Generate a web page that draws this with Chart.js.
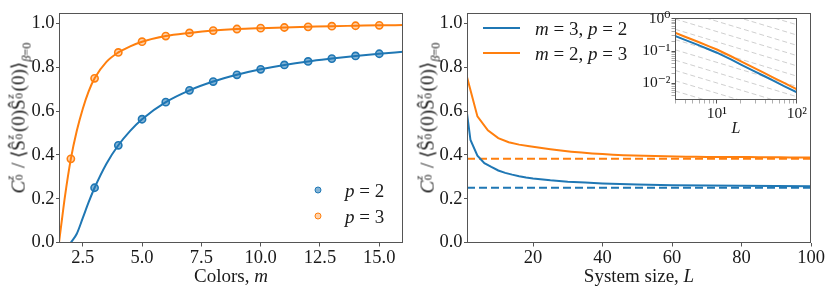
<!DOCTYPE html>
<html>
<head>
<meta charset="utf-8">
<script src="https://cdn.jsdelivr.net/npm/chart.js@4.4.1/dist/chart.umd.min.js"></script>
<style>
html,body{margin:0;padding:0;background:#fff;}
#wrap{position:relative;width:831px;height:289px;overflow:hidden;font-family:'Liberation Serif','DejaVu Serif',serif;color:#1a1a1a;}
canvas{position:absolute;}
.lab{position:absolute;white-space:nowrap;line-height:1;font-size:19px;transform:translate(-50%,-50%);}
.ylab{position:absolute;white-space:nowrap;line-height:1;font-size:19px;transform:translate(-50%,-50%) rotate(-90deg);}
.ss{display:inline-block;position:relative;width:0.42em;height:1em;}
.ss .u{position:absolute;left:0.06em;top:-0.06em;font-size:0.6em;line-height:1;font-style:italic;}
.ss .d{position:absolute;left:0.06em;top:0.74em;font-size:0.6em;line-height:1;}
.sb{font-size:0.65em;vertical-align:-0.45em;}
.leg{position:absolute;white-space:nowrap;font-size:19px;line-height:1;transform:translateY(-50%);}
.mk{position:absolute;width:5px;height:5px;border-radius:50%;border:1.6px solid;transform:translate(-50%,-50%);}
.ln{position:absolute;height:2px;transform:translateY(-50%);}
</style>
</head>
<body>
<div id="wrap">
  <canvas id="cLeft" width="415" height="289" style="left:0;top:0;"></canvas>
  <canvas id="cRight" width="416" height="289" style="left:415px;top:0;"></canvas>
  <canvas id="cInset" width="180" height="114" style="left:628px;top:8px;"></canvas>

  <div class="ylab" style="left:19px;top:118px;"><i>C</i><span class="ss"><span class="u">z</span><span class="d">0</span></span> / ⟨Ŝ<span class="ss"><span class="u">z</span><span class="d">0</span></span>(0)Ŝ<span class="ss"><span class="u">z</span><span class="d">0</span></span>(0)⟩<span class="sb"><i>β</i>=0</span></div>
  <div class="ylab" style="left:428px;top:118px;"><i>C</i><span class="ss"><span class="u">z</span><span class="d">0</span></span> / ⟨Ŝ<span class="ss"><span class="u">z</span><span class="d">0</span></span>(0)Ŝ<span class="ss"><span class="u">z</span><span class="d">0</span></span>(0)⟩<span class="sb"><i>β</i>=0</span></div>

  <div class="lab" style="left:231px;top:275px;">Colors, <i>m</i></div>
  <div class="lab" style="left:639px;top:275px;">System size, <i>L</i></div>
  <div class="lab" style="left:736px;top:128px;font-size:16px;"><i>L</i></div>

  <div class="mk" style="left:318px;top:190px;border-color:#1f77b4;background:rgba(31,119,180,0.55);"></div>
  <div class="leg" style="left:345px;top:190px;"><i>p</i> = 2</div>
  <div class="mk" style="left:318px;top:216px;border-color:#ff7f0e;background:rgba(255,127,14,0.35);"></div>
  <div class="leg" style="left:345px;top:216px;"><i>p</i> = 3</div>

  <div class="ln" style="left:483px;top:28px;width:37px;background:#1f77b4;"></div>
  <div class="leg" style="left:535px;top:28px;"><i>m</i> = 3, <i>p</i> = 2</div>
  <div class="ln" style="left:483px;top:53px;width:37px;background:#ff7f0e;"></div>
  <div class="leg" style="left:535px;top:53px;"><i>m</i> = 2, <i>p</i> = 3</div>
</div>
<script>
// ---------- data: left panel ----------
const colorsP2 = [3,4,5,6,7,8,9,10,11,12,13,14,15];
const corrP2   = [0.25,0.444,0.563,0.641,0.695,0.735,0.766,0.791,0.811,0.827,0.84,0.852,0.862];
const colorsP3 = [2,3,4,5,6,7,8,9,10,11,12,13,14,15];
const corrP3   = [0.382,0.75,0.868,0.917,0.943,0.957,0.968,0.975,0.979,0.982,0.985,0.988,0.99,0.992];
const curveMP2 = [2,2.25,2.5,2.75,3,3.5,4,4.5,5,6,7,8,9,10,11,12,13,14,15,16];
const curveP2  = [0,0.04,0.111,0.184,0.25,0.36,0.444,0.51,0.563,0.641,0.695,0.735,0.766,0.791,0.811,0.827,0.84,0.852,0.862,0.871];
const curveMP3 = [1.5,1.6,1.75,2,2.25,2.5,2.75,3,3.5,4,4.5,5,6,7,8,9,10,11,12,13,14,15,16];
const curveP3  = [0,0.085,0.21,0.382,0.51,0.61,0.69,0.75,0.825,0.868,0.896,0.917,0.943,0.957,0.968,0.975,0.979,0.982,0.985,0.988,0.99,0.992,0.993];
const colorTicks = [2.5,5,7.5,10,12.5,15];
const corrTicks  = [0,0.2,0.4,0.6,0.8,1.0];

// ---------- data: right panel ----------
const sizeM3P2 = [1,2,4,6,8,10,12,14,16,18,20,25,30,35,40,50,60,70,80,90,100];
const corrM3P2 = [0.59,0.468,0.397,0.362,0.345,0.329,0.318,0.31,0.303,0.297,0.292,0.284,0.278,0.274,0.27,0.265,0.262,0.26,0.259,0.258,0.257];
const sizeM2P3 = [1,4,7,10,13,16,19,22,25,28,31,34,37,40,43,46,49,52,55,58,61,64,67,70,73,76,79,82,85,88,91,94,97,100];
const corrM2P3 = [0.756,0.576,0.512,0.477,0.458,0.447,0.44,0.433,0.426,0.42,0.415,0.411,0.407,0.404,0.401,0.399,0.397,0.396,0.395,0.394,0.393,0.392,0.392,0.391,0.391,0.39,0.39,0.39,0.389,0.389,0.389,0.388,0.388,0.388];
const limitM3P2 = 0.25;
const limitM2P3 = 0.382;
const sizeRange = [1,100];
const sizeTicks = [20,40,60,80,100];

// ---------- data: inset (log-log, deviation from the limit) ----------
const insetL      = [3,4,5,6,8,10,15,20,30,40,50,70,100];
const insetM3P2   = [0.296,0.224,0.18,0.15,0.112,0.089,0.055,0.038,0.023,0.0162,0.0122,0.008,0.0052];
const insetM2P3   = [0.372,0.28,0.225,0.188,0.14,0.112,0.069,0.048,0.029,0.0203,0.0153,0.01,0.0064];
const insetRange  = [3,100];
const insetYMajor = [0.01,0.1,1];
const insetYMinor = [0.004,0.005,0.006,0.007,0.008,0.009,0.02,0.03,0.04,0.05,0.06,0.07,0.08,0.09,0.2,0.3,0.4,0.5,0.6,0.7,0.8,0.9];
const insetYLabels = {0.01:'10⁻²',0.1:'10⁻¹',1:'10⁰'};
const insetXMajor = [10,100];
const insetXMinor = [3,4,5,6,7,8,9,20,30,40,50,60,70,80,90];
const insetXLabels = {10:'10¹',100:'10²'};
const guideStart = [9.12,4.37,2.09,1,0.479,0.229,0.110,0.0525,0.0251,0.0120,0.00575];
const guideEnd   = [0.660,0.316,0.151,0.0724,0.0347,0.0166,0.00794,0.0038,0.00182,0.00087,0.00042];

const BLUE = '#1f77b4', ORANGE = '#ff7f0e', SPINE = '#555', TXT = '#1a1a1a';
const FONT = "'Liberation Serif', 'DejaVu Serif', serif";
Chart.defaults.font.family = FONT;
Chart.defaults.color = TXT;

// full box frame (matplotlib spines)
const framePlugin = {
  id: 'frame',
  afterDraw(chart) {
    const a = chart.chartArea, c = chart.ctx;
    c.save(); c.strokeStyle = SPINE; c.lineWidth = 1;
    c.strokeRect(Math.round(a.left) + 0.5, Math.round(a.top) + 0.5,
                 Math.round(a.right - a.left) - 1, Math.round(a.bottom - a.top) - 1);
    c.restore();
  }
};

const xy = (xs, ys) => xs.map((x, i) => ({x: x, y: ys[i]}));
const baseOpts = {
  responsive: false, animation: false, devicePixelRatio: 1,
  plugins: {legend: {display: false}, tooltip: {enabled: false}},
  elements: {point: {hoverRadius: 0}}
};
function axis(min, max, ticksArr, fmt, isX, fitSize) {
  return {
    type: 'linear', min: min, max: max,
    afterBuildTicks: s => { s.ticks = ticksArr.map(v => ({value: v})); },
    afterFit: s => { if (isX) s.height = fitSize; else s.width = fitSize; },
    ticks: {callback: fmt, font: {size: 18.5, family: FONT}, color: TXT, padding: isX ? 1 : 1.5, maxRotation: 0, autoSkip: false},
    grid: {drawOnChartArea: false, tickLength: isX ? 4 : 3, color: SPINE, tickColor: SPINE},
    border: {display: false}
  };
}

// ---------- left chart ----------
new Chart(document.getElementById('cLeft'), {
  type: 'scatter',
  data: {datasets: [
    {data: xy(colorsP2, corrP2), showLine: false, pointRadius: 3.6, pointBorderWidth: 1.6,
     borderColor: BLUE, backgroundColor: 'rgba(31,119,180,0.55)', order: 0},
    {data: xy(colorsP3, corrP3), showLine: false, pointRadius: 3.6, pointBorderWidth: 1.6,
     borderColor: ORANGE, backgroundColor: 'rgba(255,127,14,0.35)', order: 0},
    {data: xy(curveMP2, curveP2), showLine: true, borderColor: BLUE, borderWidth: 2, pointRadius: 0,
     cubicInterpolationMode: 'monotone', order: 1, clip: 0},
    {data: xy(curveMP3, curveP3), showLine: true, borderColor: ORANGE, borderWidth: 2, pointRadius: 0,
     cubicInterpolationMode: 'monotone', order: 1, clip: 0}
  ]},
  options: Object.assign({}, baseOpts, {
    layout: {padding: {top: 5, right: 12, left: 0, bottom: 0}},
    scales: {
      x: axis(1.5, 16, colorTicks, v => v.toFixed(1), true, 46.5),
      y: axis(0, 1.05, corrTicks, v => v.toFixed(1), false, 59)
    }
  }),
  plugins: [framePlugin]
});

// ---------- right chart ----------
new Chart(document.getElementById('cRight'), {
  type: 'scatter',
  data: {datasets: [
    {data: xy(sizeM3P2, corrM3P2), showLine: true, borderColor: BLUE, borderWidth: 2, pointRadius: 0, clip: 0},
    {data: xy(sizeM2P3, corrM2P3), showLine: true, borderColor: ORANGE, borderWidth: 2, pointRadius: 0, clip: 0},
    {data: xy(sizeRange, [limitM3P2, limitM3P2]), showLine: true, borderColor: BLUE, borderWidth: 2,
     borderDash: [8, 4], pointRadius: 0, clip: 0},
    {data: xy(sizeRange, [limitM2P3, limitM2P3]), showLine: true, borderColor: ORANGE, borderWidth: 2,
     borderDash: [8, 4], pointRadius: 0, clip: 0}
  ]},
  options: Object.assign({}, baseOpts, {
    layout: {padding: {top: 5, right: 20, left: 0, bottom: 0}},
    scales: {
      x: axis(1, 100, sizeTicks, v => String(v), true, 46.5),
      y: axis(0, 1.05, corrTicks, v => v.toFixed(1), false, 52)
    }
  }),
  plugins: [framePlugin]
});

// ---------- inset ----------
const guideSets = guideStart.map((g, i) => ({
  data: xy(insetRange, [g, guideEnd[i]]), showLine: true, borderColor: '#cfcfcf', borderWidth: 1,
  borderDash: [5, 3], pointRadius: 0, clip: 0, order: 2
}));
function logAxis(min, max, major, minor, labels, isX, fitSize) {
  return {
    type: 'logarithmic', min: min, max: max,
    afterBuildTicks: s => {
      s.ticks = major.map(v => ({value: v, major: true})).concat(minor.map(v => ({value: v, major: false})))
        .filter(t => t.value >= min && t.value <= max).sort((a, b) => a.value - b.value);
    },
    afterFit: s => { if (isX) s.height = fitSize; else s.width = fitSize; },
    ticks: {callback: v => labels[v] || '', font: {size: 15.5, family: FONT}, color: TXT,
            padding: 1, maxRotation: 0, autoSkip: false},
    grid: {drawOnChartArea: false, tickLength: 3.5, color: SPINE,
           tickColor: c => (c.tick && c.tick.major) ? SPINE : '#777',
           tickWidth: c => (c.tick && c.tick.major) ? 1 : 0.6},
    border: {display: false}
  };
}
new Chart(document.getElementById('cInset'), {
  type: 'scatter',
  data: {datasets: guideSets.concat([
    {data: xy(insetL, insetM3P2), showLine: true, borderColor: BLUE, borderWidth: 2, pointRadius: 0, clip: 0, order: 0},
    {data: xy(insetL, insetM2P3), showLine: true, borderColor: ORANGE, borderWidth: 2, pointRadius: 0, clip: 0, order: 0}
  ])},
  options: Object.assign({}, baseOpts, {
    layout: {padding: {top: 7, right: 11, left: 0, bottom: 0}},
    scales: {
      x: logAxis(3, 100, insetXMajor, insetXMinor, insetXLabels, true, 22),
      y: logAxis(0.003, 1.05, insetYMajor, insetYMinor, insetYLabels, false, 47)
    }
  }),
  plugins: [framePlugin]
});
</script>
</body>
</html>
